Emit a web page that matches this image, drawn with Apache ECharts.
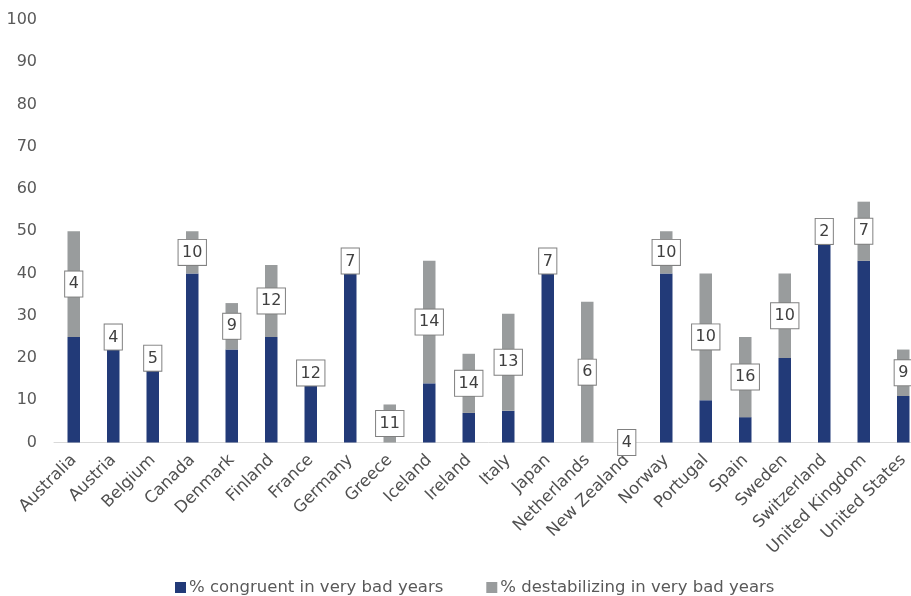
<!DOCTYPE html>
<html>
<head>
<meta charset="utf-8">
<script src="https://cdn.jsdelivr.net/npm/echarts@6/dist/echarts.min.js"></script>
<style>
  html, body { margin: 0; padding: 0; background: #fff; width: 911px; height: 596px; overflow: hidden; }
  /* the plot runs a little past the right edge of the picture */
  #myChart { width: 924px; height: 596px; }
</style>
</head>
<body>
<div id="myChart"></div>
<script>
// countries
var countries = ["Australia", "Austria", "Belgium", "Canada", "Denmark", "Finland", "France",
  "Germany", "Greece", "Iceland", "Ireland", "Italy", "Japan", "Netherlands", "New Zealand",
  "Norway", "Portugal", "Spain", "Sweden", "Switzerland", "United Kingdom", "United States"];
// % congruent in very bad years
var congruent = [25, 22, 17, 40, 22, 25, 13.5, 40, 0, 14, 7, 7.5, 40, 0, 0, 40, 10, 6, 20, 47, 43, 11];
// % destabilizing in very bad years
var destabilizing = [25, 0, 0, 10, 11, 17, 0, 0, 9, 29, 14, 23, 0, 33.3, 0, 10, 30, 19, 20, 0, 14, 11];
// number in the boxes
var boxLabels = [4, 4, 5, 10, 9, 12, 12, 7, 11, 14, 14, 13, 7, 6, 4, 10, 10, 16, 10, 2, 7, 9];

var FONT = "DejaVu Sans";
var NAVY = "#223a78";
var GREY = "#999c9d";

var myChart = echarts.init(document.getElementById("myChart"));

var greyData = destabilizing.map(function (v, i) {
  // box sits on top of the navy bar when there is no grey part
  var onTop = v === 0 && congruent[i] > 0;
  return {
    value: v,
    label: { position: onTop ? "top" : "inside", distance: 0 }
  };
});

myChart.setOption({
  animation: false,
  textStyle: { fontFamily: FONT },
  grid: { left: 54, right: 1, top: 20, bottom: 153.5, containLabel: false },
  legend: {
    top: 579,
    left: 175,
    padding: 0,
    icon: "rect",
    itemWidth: 11,
    itemHeight: 11,
    itemGap: 43,
    itemStyle: { borderWidth: 0 },
    textStyle: { fontFamily: FONT, fontSize: 16.5, color: "#595959", padding: [0, 0, 0, -2] },
    data: ["% congruent in very bad years", "% destabilizing in very bad years"]
  },
  xAxis: {
    type: "category",
    data: countries,
    axisLine: { lineStyle: { color: "#d9d9d9", width: 1 } },
    axisTick: { show: false },
    axisLabel: { interval: 0, rotate: 45, margin: 15, fontSize: 16.5, color: "#505050", fontFamily: FONT }
  },
  yAxis: {
    type: "value",
    min: 0,
    max: 100,
    interval: 10,
    axisLine: { show: false },
    axisTick: { show: false },
    splitLine: { show: false },
    axisLabel: { margin: 17, fontSize: 16, color: "#595959", fontFamily: FONT }
  },
  series: [
    {
      name: "% congruent in very bad years",
      type: "bar",
      stack: "total",
      barWidth: 12.5,
      data: congruent,
      itemStyle: { color: NAVY }
    },
    {
      name: "% destabilizing in very bad years",
      type: "bar",
      stack: "total",
      barWidth: 12.5,
      data: greyData,
      itemStyle: { color: GREY },
      label: {
        show: true,
        formatter: function (p) { return boxLabels[p.dataIndex]; },
        fontFamily: FONT,
        fontSize: 16,
        color: "#404040",
        backgroundColor: "#fff",
        borderColor: "#808080",
        borderWidth: 1,
        padding: [5, 3.5, 4, 3.5]
      }
    }
  ]
});
</script>
</body>
</html>
